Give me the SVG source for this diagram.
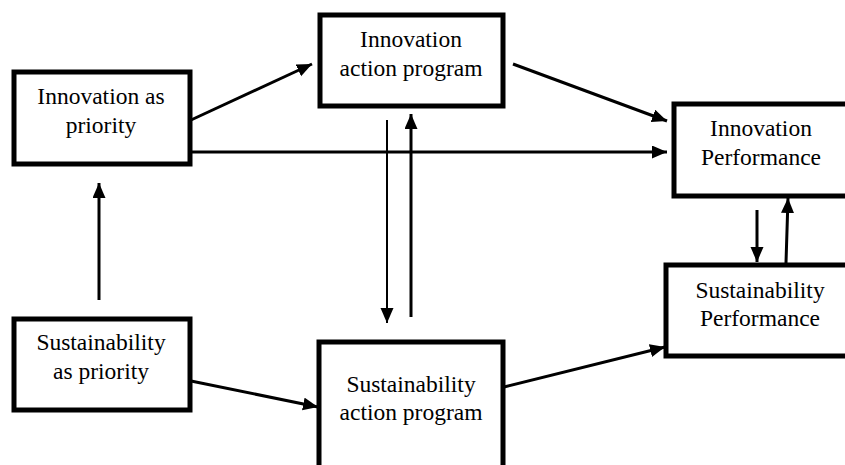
<svg xmlns="http://www.w3.org/2000/svg" width="845" height="465" viewBox="0 0 845 465">
  <style>
    .box { fill: #ffffff; stroke: #000000; stroke-width: 5; }
    .lbl { font-family: "Liberation Serif", "Times New Roman", serif; font-size: 23.5px; fill: #000000; text-anchor: middle; }
    .link { fill: none; stroke: #000000; stroke-width: 3; marker-end: url(#head); }
    .thin { stroke-width: 2; }
  </style>
  <defs>
    <marker id="head" markerUnits="userSpaceOnUse" markerWidth="16" markerHeight="14" refX="15" refY="6.5" orient="auto">
      <path d="M0,0 L15,6.5 L0,13 z" fill="#000000"/>
    </marker>
  </defs>
  <rect width="845" height="465" fill="#ffffff"/>

  <g id="connectors">
    <path class="link" d="M191,120 L312,64"/>
    <path class="link" d="M513,64 L667,121"/>
    <path class="link" d="M191,152 L667,152"/>
    <path class="link" d="M99,300 L99,183"/>
    <path class="link thin" d="M387,120 L387,323"/>
    <path class="link" d="M411,317 L411,114"/>
    <path class="link" d="M191,381 L318,407"/>
    <path class="link" d="M504,387 L665,347"/>
    <path class="link" d="M757,210 L757,262"/>
    <path class="link" d="M786,263 L788,198"/>
  </g>

  <g id="innovation-priority">
    <rect class="box" x="14" y="72" width="176" height="92"/>
    <text class="lbl" x="101" y="104">Innovation as</text>
    <text class="lbl" x="101" y="133">priority</text>
  </g>

  <g id="innovation-program">
    <rect class="box" x="320" y="15" width="183" height="91"/>
    <text class="lbl" x="411" y="47">Innovation</text>
    <text class="lbl" x="411" y="76">action program</text>
  </g>

  <g id="innovation-performance">
    <rect class="box" x="674" y="104" width="200" height="92"/>
    <text class="lbl" x="761" y="136">Innovation</text>
    <text class="lbl" x="761" y="165">Performance</text>
  </g>

  <g id="sustainability-performance">
    <rect class="box" x="666" y="265" width="200" height="91"/>
    <text class="lbl" x="760" y="298">Sustainability</text>
    <text class="lbl" x="760" y="326">Performance</text>
  </g>

  <g id="sustainability-priority">
    <rect class="box" x="14" y="319" width="176" height="91"/>
    <text class="lbl" x="101" y="350">Sustainability</text>
    <text class="lbl" x="101" y="379">as priority</text>
  </g>

  <g id="sustainability-program">
    <rect class="box" x="319" y="342" width="184" height="150"/>
    <text class="lbl" x="411" y="392">Sustainability</text>
    <text class="lbl" x="411" y="420">action program</text>
  </g>
</svg>
